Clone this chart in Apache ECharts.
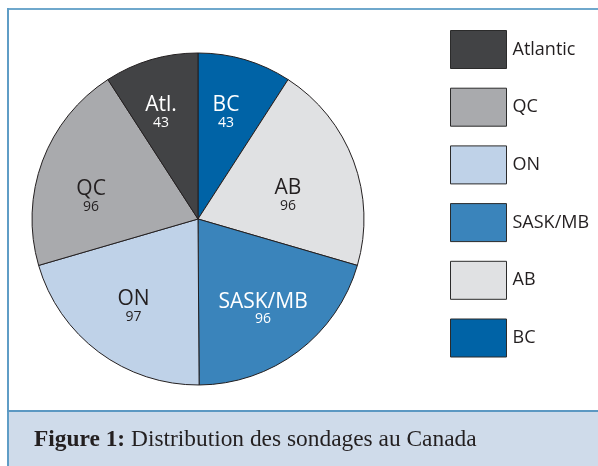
<!DOCTYPE html>
<html>
<head>
<meta charset="utf-8">
<script src="https://cdn.jsdelivr.net/npm/echarts@6/dist/echarts.min.js"></script>
<style>
  html, body { margin: 0; padding: 0; background: #fff; }
  #chart { width: 598px; height: 466px; }
</style>
</head>
<body>
<div id="chart"></div>
<script>
// données du graphique (sens horaire depuis midi)
const regions = ['BC', 'AB', 'SASK/MB', 'ON', 'QC', 'Atlantic'];
const shortNames = ['BC', 'AB', 'SASK/MB', 'ON', 'QC', 'Atl.'];
const counts = [43, 96, 96, 97, 96, 43];
const legendOrder = ['Atlantic', 'QC', 'ON', 'SASK/MB', 'AB', 'BC'];

const colors = {
  'BC': '#0063a6',
  'AB': '#e0e1e3',
  'SASK/MB': '#3a84bb',
  'ON': '#bfd2e8',
  'QC': '#a9aaad',
  'Atlantic': '#424345'
};
const labelColors = {
  'BC': '#ffffff',
  'AB': '#231f20',
  'SASK/MB': '#ffffff',
  'ON': '#231f20',
  'QC': '#231f20',
  'Atlantic': '#ffffff'
};
// petits décalages des étiquettes (padding du bloc de texte)
const labelPadding = {
  'BC': [4, 8, 0, 0],
  'AB': [32, 32, 0, 0],
  'SASK/MB': [0, 6, 0, 0],
  'ON': [0, 0, 6, 6],
  'QC': [34, 2, 0, 0],
  'Atlantic': [4, 10, 0, 0]
};

const chart = echarts.init(document.getElementById('chart'));

const sliceData = regions.map((r, i) => ({
  name: r,
  value: counts[i],
  itemStyle: { color: colors[r] }
}));

// série transparente, seulement pour placer les étiquettes plus loin du centre
const labelData = regions.map((r, i) => ({
  name: r,
  value: counts[i],
  short: shortNames[i],
  label: {
    padding: labelPadding[r],
    rich: {
      n: { fontFamily: 'Open Sans', fontSize: 21, lineHeight: 20, color: labelColors[r] },
      v: { fontFamily: 'Open Sans', fontSize: 14, lineHeight: 15, color: labelColors[r] }
    }
  }
}));

const option = {
  animation: false,
  title: {
    text: '{b|Figure 1:} Distribution des sondages au Canada',
    left: 34,
    top: 426,
    padding: 0,
    textStyle: {
      fontFamily: 'Liberation Serif',
      fontSize: 23.4,
      fontWeight: 'normal',
      color: '#231f20',
      lineHeight: 28,
      rich: {
        b: {
          fontFamily: 'Liberation Serif',
          fontSize: 23.4,
          fontWeight: 'bold',
          color: '#231f20',
          lineHeight: 28
        }
      }
    }
  },
  graphic: [
    { type: 'rect', shape: { x: 9, y: 411, width: 589, height: 55 }, style: { fill: '#cfdbea' }, z: 0 },
    { type: 'rect', shape: { x: 7, y: 8, width: 591, height: 2 }, style: { fill: '#6fa8cc' }, z: 1 },
    { type: 'rect', shape: { x: 7, y: 8, width: 2, height: 458 }, style: { fill: '#5f9dc6' }, z: 1 },
    { type: 'rect', shape: { x: 7, y: 410, width: 591, height: 2 }, style: { fill: '#5c98c2' }, z: 1 }
  ],
  legend: {
    orient: 'vertical',
    left: 450,
    top: 30,
    padding: 0,
    data: legendOrder,
    icon: 'rect',
    itemWidth: 56,
    itemHeight: 38,
    itemGap: 18.7,
    selectedMode: false,
    itemStyle: { borderColor: '#2b2b2b', borderWidth: 1 },
    textStyle: {
      fontFamily: 'Open Sans',
      fontSize: 18,
      color: '#231f20',
      padding: [0, 0, 0, 1]
    }
  },
  series: [
    {
      type: 'pie',
      center: [198, 219],
      radius: [0, 166],
      startAngle: 90,
      clockwise: true,
      silent: true,
      label: { show: false },
      labelLine: { show: false },
      itemStyle: { borderColor: '#231f20', borderWidth: 1 },
      data: sliceData
    },
    {
      type: 'pie',
      center: [198, 219],
      radius: [54, 166],
      startAngle: 90,
      clockwise: true,
      silent: true,
      legendHoverLink: false,
      itemStyle: { color: 'rgba(0,0,0,0)', borderWidth: 0 },
      labelLine: { show: false },
      label: {
        show: true,
        position: 'inside',
        color: '#231f20',
        formatter: p => '{n|' + p.data.short + '}\n{v|' + p.value + '}'
      },
      data: labelData
    }
  ]
};

chart.setOption(option);
</script>
</body>
</html>
